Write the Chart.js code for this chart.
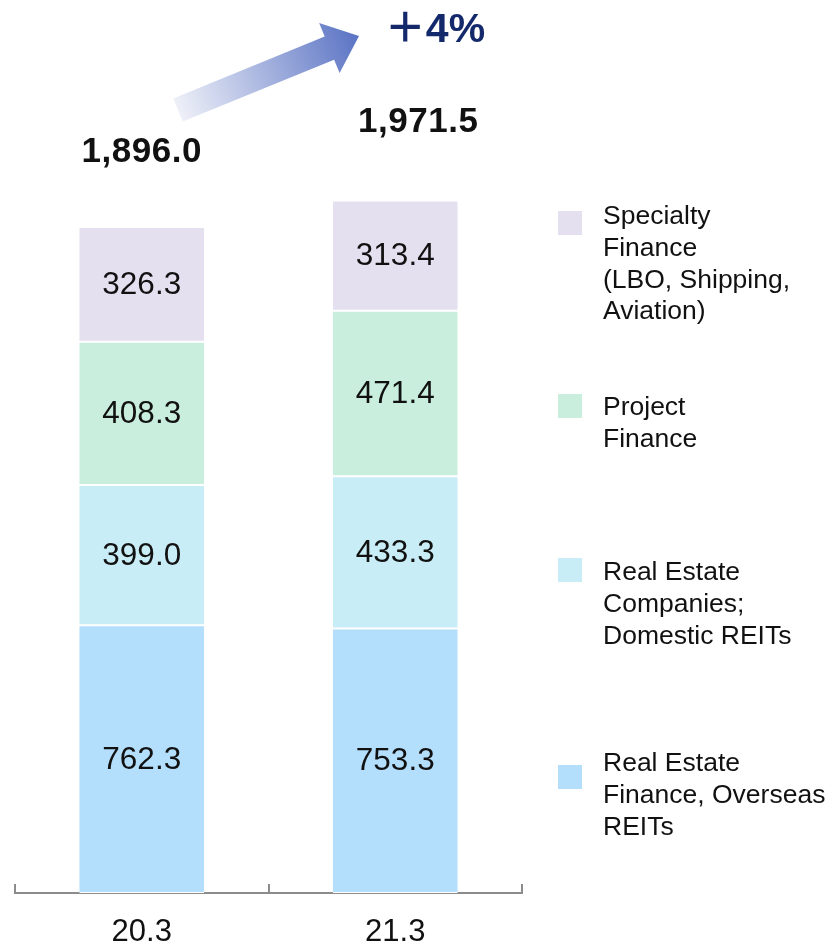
<!DOCTYPE html>
<html>
<head>
<meta charset="utf-8">
<script src="https://cdn.jsdelivr.net/npm/chart.js@4/dist/chart.umd.min.js"></script>
<style>
  html, body { margin: 0; padding: 0; background: #fff; }
  #wrap { width: 832px; height: 944px; position: relative; }
</style>
</head>
<body>
<div id="wrap"><canvas id="financeChart"></canvas></div>
<script>
const periods = ['20.3', '21.3'];
const realEstateFinance = [762.3, 753.3];
const realEstateCompanies = [399.0, 433.3];
const projectFinance = [408.3, 471.4];
const specialtyFinance = [326.3, 313.4];
const totals = [1896.0, 1971.5];
const growthLabel = '＋4%';

const seriesNames = [
    ['Real Estate', 'Finance, Overseas', 'REITs'],
    ['Real Estate', 'Companies;', 'Domestic REITs'],
    ['Project', 'Finance'],
    ['Specialty', 'Finance', '(LBO, Shipping,', 'Aviation)']
];
const colors = ['#B3DEFC', '#C9EDF6', '#C9EEDD', '#E4E0EF'];

const FONT = '"Liberation Sans", Arial, "Noto Sans CJK JP", sans-serif';

// value labels in the middle of each segment, totals, arrow and legend
const decorations = {
    id: 'decorations',
    afterDatasetsDraw(chart) {
        const ctx = chart.ctx;
        const xs = chart.scales.x;
        const ys = chart.scales.y;
        ctx.save();
        ctx.textAlign = 'center';
        ctx.textBaseline = 'middle';
        ctx.fillStyle = '#111';
        ctx.font = '31.5px ' + FONT;
        chart.data.datasets.forEach((ds, di) => {
            const meta = chart.getDatasetMeta(di);
            meta.data.forEach((bar, i) => {
                const y = (bar.y + bar.base) / 2;
                ctx.fillText(ds.data[i].toFixed(1), bar.x, y + 1);
            });
        });

        // totals
        ctx.font = 'bold 35px ' + FONT;
        ctx.letterSpacing = '0.5px';
        const shift = [0, 23];
        const lift = [75, 78];
        totals.forEach((t, i) => {
            const x = xs.getPixelForValue(i) + shift[i];
            const y = ys.getPixelForValue(t) - lift[i];
            ctx.fillText(t.toLocaleString('en-US', {minimumFractionDigits: 1}), x, y);
        });
        ctx.letterSpacing = '0px';

        // growth arrow
        const tail = {x: 178, y: 110};
        const tip = {x: 359, y: 36};
        const ang = Math.atan2(tip.y - tail.y, tip.x - tail.x);
        const len = Math.hypot(tip.x - tail.x, tip.y - tail.y);
        ctx.save();
        ctx.translate(tail.x, tail.y);
        ctx.rotate(ang);
        const grad = ctx.createLinearGradient(0, 0, len, 0);
        grad.addColorStop(0, '#EEF0F8');
        grad.addColorStop(1, '#5A73C4');
        ctx.fillStyle = grad;
        const sw = 12.5, hw = 27, hl = 32;
        ctx.beginPath();
        ctx.moveTo(0, -sw);
        ctx.lineTo(len - hl, -sw);
        ctx.lineTo(len - hl, -hw);
        ctx.lineTo(len, 0);
        ctx.lineTo(len - hl, hw);
        ctx.lineTo(len - hl, sw);
        ctx.lineTo(0, sw);
        ctx.closePath();
        ctx.fill();
        ctx.restore();

        ctx.fillStyle = '#13296B';
        ctx.font = 'bold 41px ' + FONT;
        ctx.fillText(growthLabel, 435, 31);

        // legend (top item first)
        const squareTop = [765, 558, 394, 211];
        const firstLine = [764, 573, 408, 217];
        ctx.textAlign = 'left';
        ctx.font = '26.5px ' + FONT;
        seriesNames.forEach((lines, i) => {
            ctx.fillStyle = colors[i];
            ctx.fillRect(558, squareTop[i], 24, 24);
            ctx.fillStyle = '#111';
            lines.forEach((ln, k) => {
                ctx.fillText(ln, 603, firstLine[i] + k * 31.7);
            });
        });

        // category boundary ticks on the axis
        const half = (xs.getPixelForValue(1) - xs.getPixelForValue(0)) / 2;
        const bottom = chart.chartArea.bottom;
        ctx.strokeStyle = '#8C8C8C';
        ctx.lineWidth = 2;
        for (let i = 0; i <= periods.length; i++) {
            const x = Math.round(xs.getPixelForValue(0) - half + i * half * 2);
            ctx.beginPath();
            ctx.moveTo(x, bottom - 9);
            ctx.lineTo(x, bottom);
            ctx.stroke();
        }
        ctx.restore();
    }
};

const datasets = [realEstateFinance, realEstateCompanies, projectFinance, specialtyFinance].map((d, i) => ({
    label: seriesNames[i].join(' '),
    data: d,
    backgroundColor: colors[i],
    borderColor: '#ffffff',
    borderWidth: {top: 1, bottom: 1, left: 0, right: 0},
    borderSkipped: false,
    barPercentage: 0.493,
    categoryPercentage: 1
}));

new Chart(document.getElementById('financeChart'), {
    type: 'bar',
    data: { labels: periods, datasets: datasets },
    options: {
        responsive: true,
        maintainAspectRatio: false,
        animation: false,
        layout: { padding: { left: 15, right: 310, top: 50, bottom: -28 } },
        plugins: {
            legend: { display: false },
            tooltip: { enabled: false }
        },
        scales: {
            x: {
                stacked: true,
                grid: { display: false, drawTicks: false },
                border: { display: true, color: '#8C8C8C', width: 2 },
                ticks: {
                    color: '#111',
                    padding: 24,
                    font: { family: FONT, size: 31, lineHeight: 1 }
                }
            },
            y: {
                stacked: true,
                display: false,
                min: 0,
                max: 2400
            }
        }
    },
    plugins: [decorations]
});
</script>
</body>
</html>
